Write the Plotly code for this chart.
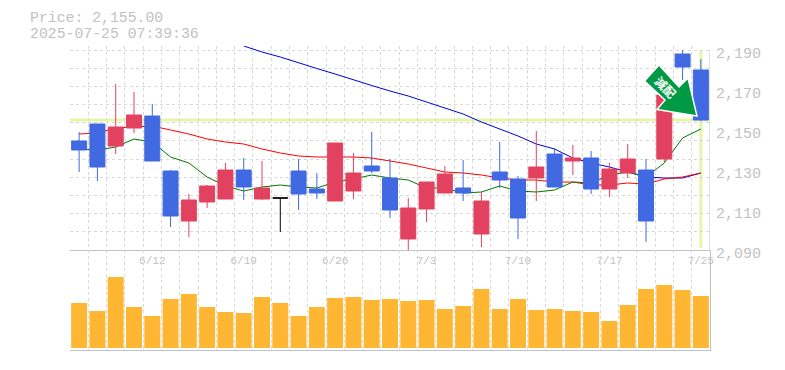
import plotly.graph_objects as go

dates = ["6/6","6/9","6/10","6/11","6/12","6/13","6/16","6/17","6/18","6/19","6/20","6/23","6/24","6/25","6/26","6/27","6/30","7/1","7/2","7/3","7/4","7/7","7/8","7/9","7/10","7/11","7/14","7/15","7/16","7/17","7/18","7/22","7/23","7/24","7/25"]
opens = [2144.5,2153,2142,2151,2157,2129.5,2104.5,2114,2115.5,2130,2115.5,2116,2129.5,2120.5,2114.5,2119.5,2132,2126,2095.5,2110.5,2118.5,2121,2098,2129,2125.5,2126,2138,2134.5,2136,2120.5,2128.5,2130,2135.5,2188,2180]
highs = [2149,2153,2173,2169,2163,2130,2118,2122.5,2133.5,2136,2134.5,2116,2135.5,2128.5,2143.5,2138.5,2149,2135.5,2116,2124,2132,2135,2119,2144,2127,2149.5,2141,2142.5,2139.5,2133.5,2143,2135.5,2167.5,2190,2185.5]
lows = [2129,2124.5,2138,2148.5,2134.5,2101.5,2096.5,2111,2115.5,2115,2115,2099,2110,2115.5,2114.5,2115.5,2128.5,2106,2089.5,2104,2118.5,2114.5,2091.5,2121,2095.5,2114.5,2121.5,2127.5,2118,2116.5,2126,2094,2134,2175,2154.5]
closes = [2140,2131.5,2151.5,2157.5,2134.5,2107,2115,2122,2130,2121.5,2121,2116,2118,2118.5,2143.5,2128.5,2129.5,2110,2111,2124,2128,2118.5,2114.5,2125,2106,2131.5,2121.5,2136,2120.5,2130.5,2135.5,2104.5,2167.5,2181.5,2155]
ma_short = [2140.5,2140,2141.5,2145.5,2144,2136.5,2133.5,2126.5,2122,2119.5,2121.5,2122.5,2121.5,2121,2124,2125.5,2127.5,2126,2125,2121,2121,2118.5,2119,2122,2119.5,2119,2120,2124,2123.5,2127.5,2129,2126.5,2133.5,2146,2150.5]
ma_mid = [2148,2148.5,2151,2151.5,2152,2150,2148,2145.5,2144,2143,2140.5,2138.5,2137,2136.5,2136.5,2136.5,2136,2134.5,2133,2131,2129,2128.5,2127.5,2126,2125,2125,2124,2124,2122.5,2122.5,2123.5,2123,2125.5,2126.5,2128.5]
ma_long = [None]*9 + [2192,2189,2186.5,2183.5,2180.75,2178,2175,2172.25,2169.5,2167,2164,2161,2158,2154,2150.5,2147,2143,2140.5,2136,2133.5,2131.5,2129,2126.5,2126,2126,2128.5]
volumes = [45,37,71,41,32,49,54,41,36,35,51,45,32,41,50,51,48,49,47,48,39,42,59,39,49,38,39,37,36,27,43,59,63,58,52]
price_ticks = [2090,2110,2130,2150,2170,2190]
label_dates = ["6/12","6/19","6/26","7/3","7/10","7/17","7/25"]
last_price = 2155.0
stamp = "2025-07-25 07:39:36"

GRAY = "#c2c2c2"
GRID = "#d8d8d8"
RED = "#e2425f"
BLUE = "#4169e1"
HILITE = "#e6f5a8"
FONT = "Liberation Mono"

# The plot area runs 4px above the top gridline so the long average can show
# the short stretch it draws above the axis in the reference.
W, H = 785, 370
L, T = 70, 46
PW, PH = 640, 304
VOL_H = 100
R, B = W - L - PW, H - T - PH
px = lambda v: (v - L) / PW
py = lambda v: (T + PH - v) / PH

xs = list(range(len(dates)))
n = len(dates)
xrange_ = [-0.5, n - 0.5]
yrange_ = [price_ticks[0], price_ticks[-1] + 2]
xgrid = [i - 0.5 for i in range(n + 1)]
ygrid = [2090 + i * 100 / 11 for i in range(12)]
doji = [i for i in xs if opens[i] == closes[i]]
body = [i for i in xs if opens[i] != closes[i]]

fig = go.Figure()
fig.add_trace(go.Scatter(x=xs, y=ma_long, mode="lines", line=dict(color="#0000e0", width=1), yaxis="y", xaxis="x"))
fig.add_trace(go.Scatter(x=xs, y=ma_mid, mode="lines", line=dict(color="#ff0000", width=1), yaxis="y", xaxis="x"))
fig.add_trace(go.Scatter(x=xs, y=ma_short, mode="lines", line=dict(color="#007800", width=1), yaxis="y", xaxis="x"))

pick = lambda a, idx: [a[i] for i in idx]
for idx, up, dn in ((body, RED, BLUE), (doji, "#000000", "#000000")):
    fig.add_trace(go.Candlestick(
        x=idx, open=pick(opens, idx), high=pick(highs, idx), low=pick(lows, idx), close=pick(closes, idx),
        increasing=dict(line=dict(color=up, width=1), fillcolor=up),
        decreasing=dict(line=dict(color=dn, width=1), fillcolor=dn),
        whiskerwidth=0, xaxis="x", yaxis="y3"))

fig.add_trace(go.Bar(x=xs, y=volumes, marker=dict(color="#ffb733", line=dict(width=0)), width=0.875, xaxis="x2", yaxis="y2"))

grid_minor = lambda vals: dict(tickmode="array", tickvals=vals, showgrid=True, gridcolor=GRID, griddash="3px,3px", gridwidth=1, ticks="")

fig.update_layout(
    width=W, height=H, autosize=False, margin=dict(l=L, r=R, t=T, b=B, autoexpand=False),
    paper_bgcolor="white", plot_bgcolor="white", showlegend=False,
    boxmode="overlay", boxgap=0.18, boxgroupgap=0, bargap=0.125,
    xaxis=dict(domain=[0, 1], anchor="y", range=xrange_, tickmode="array",
               tickvals=[dates.index(d) for d in label_dates], ticktext=label_dates,
               tickfont=dict(family=FONT, size=11, color=GRAY), ticks="", showgrid=False,
               showline=True, linecolor=GRAY, linewidth=1, zeroline=False, automargin=False,
               rangeslider=dict(visible=False), minor=grid_minor(xgrid)),
    yaxis=dict(domain=[VOL_H / PH, 1], anchor="x", side="right", range=yrange_, tickmode="array",
               tickvals=price_ticks, ticktext=[f"{v:,}" for v in price_ticks],
               tickfont=dict(family=FONT, size=15, color=GRAY), ticks="", showgrid=False,
               ticklabelstandoff=5, ticklabelshift=3, automargin=False,
               showline=False, zeroline=False, minor=grid_minor(ygrid)),
    yaxis3=dict(anchor="x", overlaying="y", side="right", range=yrange_, visible=False, showgrid=False),
    xaxis2=dict(domain=[0, 1], anchor="y2", range=xrange_, showticklabels=False, ticks="", showgrid=False, automargin=False,
                showline=True, linecolor=GRAY, linewidth=1, zeroline=False, minor=grid_minor(xgrid)),
    yaxis2=dict(domain=[0, VOL_H / PH], anchor="x2", side="right", range=[-2, 98], showticklabels=False, ticks="",
                showgrid=False, showline=True, linecolor=GRAY, linewidth=1, zeroline=False, automargin=False),
    shapes=[
        dict(type="line", xref="x", yref="y", x0=xrange_[0], x1=xrange_[1], y0=last_price, y1=last_price,
             line=dict(color=HILITE, width=3), layer="below"),
        dict(type="line", xref="x", yref="y", x0=xs[-1], x1=xs[-1], y0=2091, y1=2190,
             line=dict(color=HILITE, width=3), layer="below"),
        dict(type="line", xref="x", yref="y", x0=xrange_[1], x1=xrange_[1], y0=price_ticks[0], y1=price_ticks[-1],
             line=dict(color=GRAY, width=1), layer="below"),
        dict(type="path", xref="paper", yref="paper", layer="above",
             path="M {} {} L {} {} L {} {} L {} {} L {} {} L {} {} L {} {} Z".format(
                 px(659), py(65), px(644.5), py(81), px(665), py(100), px(657), py(109.5),
                 px(697), py(116), px(688), py(78), px(679), py(87)),
             fillcolor="#009a44", line=dict(color="white", width=1.5)),
    ],
    annotations=[
        dict(text=f"Price: {last_price:,.2f}", xref="paper", yref="paper", x=px(28), y=py(18), xanchor="left", yanchor="middle",
             showarrow=False, font=dict(family=FONT, size=14.8, color=GRAY)),
        dict(text=stamp, xref="paper", yref="paper", x=px(28), y=py(34), xanchor="left", yanchor="middle",
             showarrow=False, font=dict(family=FONT, size=14.8, color=GRAY)),
        dict(text="<b>減配</b>", xref="paper", yref="paper", x=px(665.5), y=py(86.5), xanchor="center", yanchor="middle",
             textangle=45, showarrow=False, font=dict(family="Noto Sans CJK JP", size=12, color="white")),
    ],
)

fig.write_html("out.html", config={"displayModeBar": False}, post_script="document.body.style.margin='0';document.documentElement.style.overflow='hidden';")
